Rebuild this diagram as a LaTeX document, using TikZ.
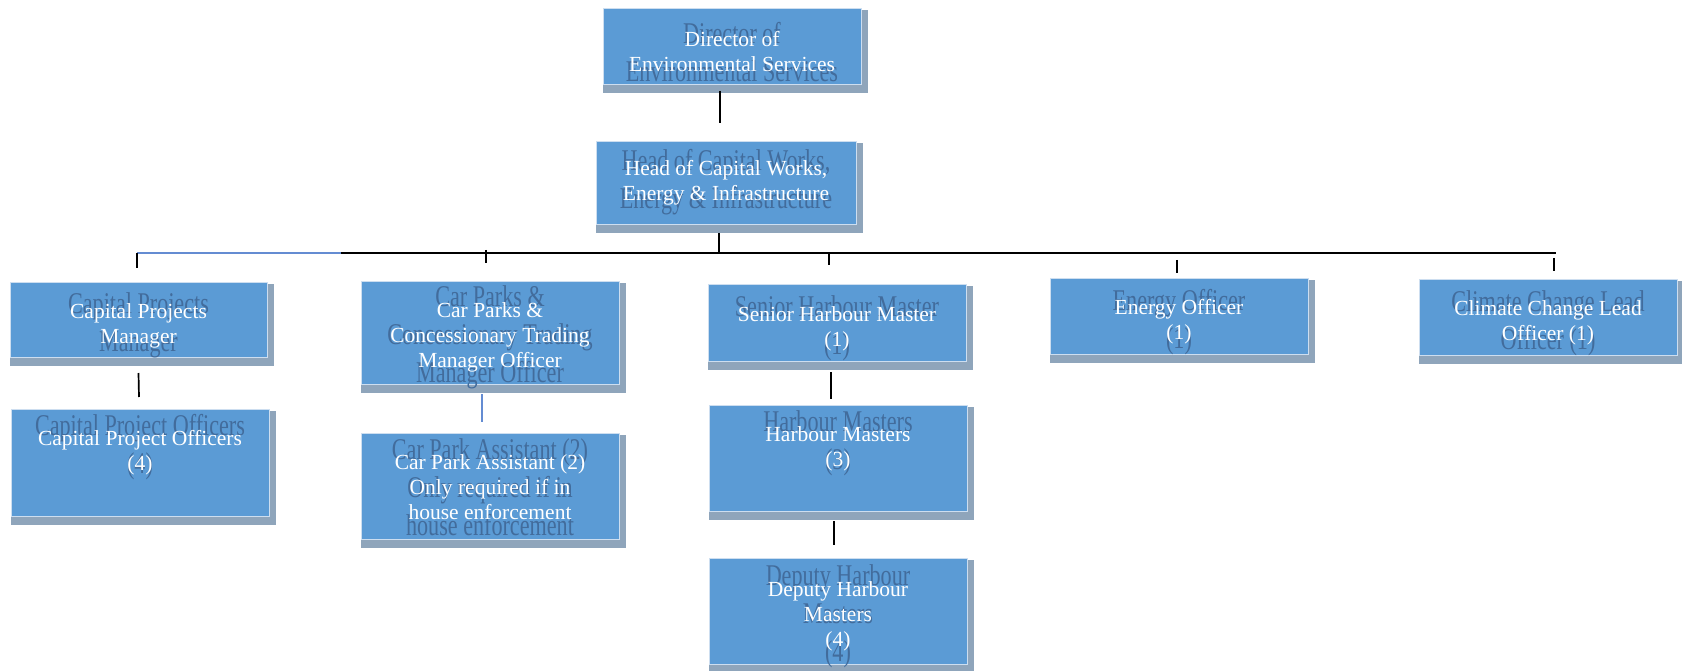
\documentclass[tikz,border=0pt]{standalone}
\usepackage{fontspec}
\setmainfont{Liberation Serif}
\usetikzlibrary{calc}
\pgfdeclarelayer{shadowlayer}
\pgfdeclarelayer{filllayer}
\pgfdeclarelayer{ghostlayer}
\pgfsetlayers{shadowlayer,filllayer,ghostlayer,main}
\definecolor{boxc}{RGB}{91,155,213}
\definecolor{shadc}{RGB}{143,165,187}
\definecolor{ghostc}{RGB}{66,108,156}
\definecolor{edgec}{RGB}{205,222,240}
\definecolor{linkblue}{RGB}{100,140,210}
\tikzset{
 boxnode/.style={rectangle, inner sep=0pt, outer sep=0pt, text=white, font=\fontsize{21.5}{25}\selectfont},
 ghostnode/.style={inner sep=0pt, text=ghostc, font=\fontsize{21.5}{27}\selectfont, xscale=1.03, yscale=1.4, transform shape},
 conn/.style={draw=black, line width=1.7pt},
 blueconn/.style={draw=linkblue, line width=1.3pt},
 boxfill/.style={fill=boxc, draw=edgec, line width=0.6pt},
 boxshadow/.style={fill=shadc},
}
\newcommand\boxtext[2]{\raisebox{-#1pt}[\height][\depth]{\parbox{250pt}{\centering #2}}}
% name, x, y, w, h, text offset, text
\newcommand\orgbox[7]{%
 \node[boxnode, minimum width=#4pt, minimum height=#5pt] (#1) at ({#2+#4/2},{#3+#5/2}) {\boxtext{#6}{#7}};
 \begin{pgfonlayer}{ghostlayer}
  \begin{scope}[shift={($(#1.center)+(0,#6)$)}]
   \node[ghostnode] at (0,0) {\parbox{250pt}{\centering #7}};
  \end{scope}
 \end{pgfonlayer}
 \begin{pgfonlayer}{filllayer}
  \path[boxfill] (#1.north west) rectangle (#1.south east);
 \end{pgfonlayer}
 \begin{pgfonlayer}{shadowlayer}
  \path[boxshadow] ([yshift=-2pt]#1.north west) rectangle ([xshift=7pt,yshift=-9pt]#1.south east);
 \end{pgfonlayer}
}
\begin{document}
\begin{tikzpicture}[x=1pt,y=-1pt]
\useasboundingbox (0,0) rectangle (1682,671);
\orgbox{dir}{603}{8}{258}{76}{6}{Director of\\Environmental Services}
\orgbox{head}{596}{141}{260}{83}{0}{Head of Capital Works,\\Energy \& Infrastructure}
\orgbox{cpm}{10}{282}{257}{75}{6}{Capital Projects\\Manager}
\orgbox{cpo}{11}{409}{258}{107}{0}{Capital Project Officers\\(4)\\\mbox{}}
\orgbox{cp}{361}{281}{258}{103}{5}{Car Parks \&\\Concessionary Trading\\Manager Officer}
\orgbox{cpa}{361}{433}{258}{106}{1}{Car Park Assistant (2)\\Only required if in\\house enforcement}
\orgbox{shm}{708}{284}{258}{77}{6}{Senior Harbour Master\\(1)}
\orgbox{hm}{709}{405}{258}{106}{1}{Harbour Masters\\(3)\\\mbox{}}
\orgbox{dep}{709}{558}{258}{106}{5}{Deputy Harbour\\Masters\\(4)}
\orgbox{en}{1050}{278}{258}{76}{6}{Energy Officer\\(1)}
\orgbox{cl}{1419}{279}{258}{76}{6}{Climate Change Lead\\Officer (1)}
% bus coordinates
\coordinate (busL) at (137,253);
\coordinate (busB) at (341,253);
\coordinate (busC) at (719,253);
\coordinate (busR) at (1556,253);
\coordinate (t2) at (486,250);
\coordinate (t3) at (829,253);
\coordinate (t4) at (1177,260);
\coordinate (t5) at (1554,258);
% connectors
\draw[conn] ([xshift=-12pt,yshift=-7pt]dir.south) -- ([xshift=-6pt,yshift=18pt]head.north);
\draw[conn] ([xshift=-7pt,yshift=-9pt]head.south) -- (busC);
\draw[blueconn] (busL) -- (busB);
\draw[conn] (busB) -- (busR);
\draw[conn] (busL) -- ([xshift=-1.5pt,yshift=14pt]cpm.north);
\draw[conn] (t2) -- ([xshift=-4pt,yshift=18pt]cp.north);
\draw[conn] (t3) -- ([xshift=-8pt,yshift=19pt]shm.north);
\draw[conn] (t4) -- ([xshift=-2pt,yshift=5pt]en.north);
\draw[conn] (t5) -- ([xshift=6pt,yshift=8pt]cl.north);
\draw[conn] ([yshift=-16pt]cpm.south) -- ([xshift=-1pt,yshift=12pt]cpo.north);
\draw[blueconn] ([xshift=-8pt,yshift=-10pt]cp.south) -- ([xshift=-8pt,yshift=11pt]cpa.north);
\draw[conn] ([xshift=-6pt,yshift=-11pt]shm.south) -- ([xshift=-7pt,yshift=6pt]hm.north);
\draw[conn] ([xshift=-4pt,yshift=-10pt]hm.south) -- ([xshift=-4pt,yshift=13pt]dep.north);
\end{tikzpicture}
\end{document}
